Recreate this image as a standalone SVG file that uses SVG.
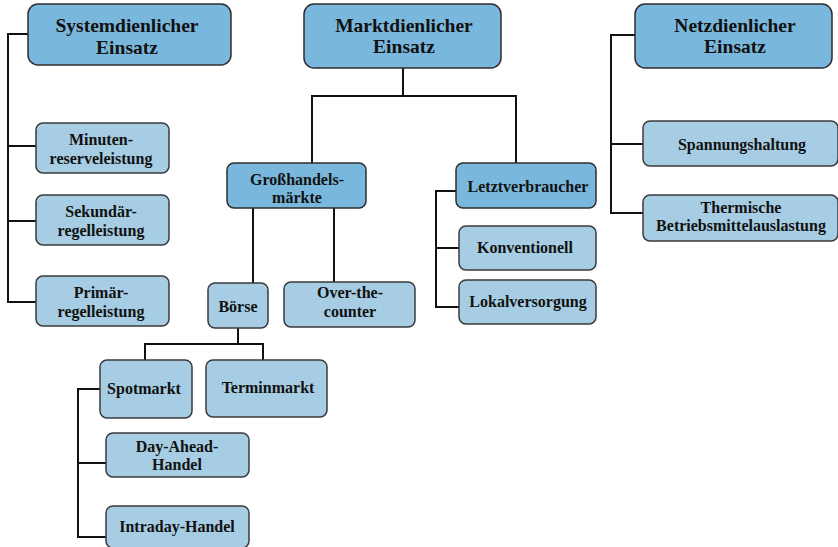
<svg xmlns="http://www.w3.org/2000/svg" width="838" height="547" viewBox="0 0 838 547">
<style>
.dark{fill:#7ab7dc;stroke:#2e2e2e;stroke-width:1.5}
.light{fill:#a6cde3;stroke:#3a3a3a;stroke-width:1.5}
.t1{font-family:"Liberation Serif","Times New Roman",serif;font-weight:bold;font-size:19.5px;fill:#111;text-anchor:middle}
.t2{font-family:"Liberation Serif","Times New Roman",serif;font-weight:bold;font-size:16px;fill:#111;text-anchor:middle}
#connectors path{fill:none;stroke:#111;stroke-width:2}
</style>
<rect width="838" height="547" fill="#fff"/>
<g id="connectors">
<path d="M28,34 H8 V302 H36 M8,146 H36 M8,221 H36"/>
<path d="M403,68 V96 M312,163 V96 H516 V163"/>
<path d="M635,35 H611 V213 H643 M611,144 H643"/>
<path d="M253,208 V283 M334,208 V282"/>
<path d="M456,191 H436 V307 H459 M436,248 H459"/>
<path d="M238,328 V344 M145,360 V344 H263 V360"/>
<path d="M100,389 H78 V537 H106 M78,463 H106"/>
</g>
<g id="systemdienlich">
<rect class="dark" x="28" y="4" width="203" height="61" rx="10"/>
<text class="t1" x="127" y="32">Systemdienlicher</text>
<text class="t1" x="127" y="54">Einsatz</text>
</g>
<g id="marktdienlich">
<rect class="dark" x="304" y="4" width="197" height="64" rx="10"/>
<text class="t1" x="404" y="32">Marktdienlicher</text>
<text class="t1" x="404" y="53">Einsatz</text>
</g>
<g id="netzdienlich">
<rect class="dark" x="635" y="4" width="197" height="64" rx="10"/>
<text class="t1" x="735" y="32">Netzdienlicher</text>
<text class="t1" x="735" y="53">Einsatz</text>
</g>
<g id="minuten">
<rect class="light" x="36" y="123" width="133" height="50" rx="7"/>
<text class="t2" x="101" y="145">Minuten-</text>
<text class="t2" x="101" y="164">reserveleistung</text>
</g>
<g id="sekundaer">
<rect class="light" x="36" y="195" width="133" height="50" rx="7"/>
<text class="t2" x="101" y="217">Sekundär-</text>
<text class="t2" x="101" y="236">regelleistung</text>
</g>
<g id="primaer">
<rect class="light" x="36" y="276" width="133" height="50" rx="7"/>
<text class="t2" x="101" y="298">Primär-</text>
<text class="t2" x="101" y="317">regelleistung</text>
</g>
<g id="grosshandel">
<rect class="dark" x="227" y="163" width="139" height="45" rx="7"/>
<text class="t2" x="297" y="185">Großhandels-</text>
<text class="t2" x="297" y="203">märkte</text>
</g>
<g id="letztverbraucher">
<rect class="dark" x="456" y="163" width="140" height="45" rx="7"/>
<text class="t2" x="528" y="192">Letztverbraucher</text>
</g>
<g id="konventionell">
<rect class="light" x="459" y="226" width="137" height="44" rx="7"/>
<text class="t2" x="525" y="253">Konventionell</text>
</g>
<g id="lokalversorgung">
<rect class="light" x="459" y="280" width="137" height="44" rx="7"/>
<text class="t2" x="528" y="307">Lokalversorgung</text>
</g>
<g id="boerse">
<rect class="light" x="208" y="283" width="60" height="45" rx="7"/>
<text class="t2" x="238" y="312">Börse</text>
</g>
<g id="otc">
<rect class="light" x="284" y="282" width="131" height="45" rx="7"/>
<text class="t2" x="350" y="298">Over-the-</text>
<text class="t2" x="350" y="317">counter</text>
</g>
<g id="spotmarkt">
<rect class="light" x="100" y="360" width="92" height="58" rx="7"/>
<text class="t2" x="144" y="394">Spotmarkt</text>
</g>
<g id="terminmarkt">
<rect class="light" x="206" y="360" width="121" height="57" rx="7"/>
<text class="t2" x="268" y="393">Terminmarkt</text>
</g>
<g id="dayahead">
<rect class="light" x="106" y="433" width="143" height="44" rx="7"/>
<text class="t2" x="177" y="452">Day-Ahead-</text>
<text class="t2" x="177" y="470">Handel</text>
</g>
<g id="intraday">
<rect class="light" x="106" y="506" width="143" height="42" rx="7"/>
<text class="t2" x="177" y="532">Intraday-Handel</text>
</g>
<g id="spannungshaltung">
<rect class="light" x="643" y="121" width="195" height="45" rx="7"/>
<text class="t2" x="742" y="150">Spannungshaltung</text>
</g>
<g id="thermisch">
<rect class="light" x="643" y="195" width="195" height="46" rx="7"/>
<text class="t2" x="741" y="213">Thermische</text>
<text class="t2" x="741" y="231">Betriebsmittelauslastung</text>
</g>
</svg>
